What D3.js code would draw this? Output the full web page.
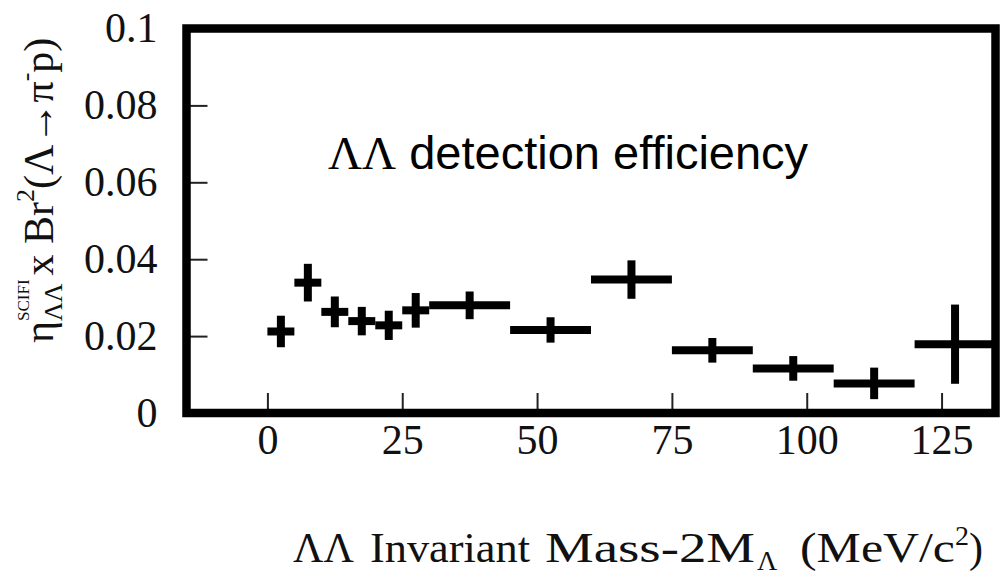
<!DOCTYPE html>
<html>
<head>
<meta charset="utf-8">
<script src="https://cdn.jsdelivr.net/npm/d3@7"></script>
<style>
  body { margin: 0; background: #fff; }
  svg { display: block; }
</style>
</head>
<body>
<svg id="eff-chart-svg" width="1000" height="577"></svg>
<script>
// bin centres (MeV/c^2), half bin widths, efficiency values and errors
let massCenter = [2.5, 7.5, 12.5, 17.5, 22.5, 27.5, 37.5, 52.5, 67.5, 82.5, 97.5, 112.5, 127.5];
let massHalfWidth = [2.5, 2.5, 2.5, 2.5, 2.5, 2.5, 7.5, 7.5, 7.5, 7.5, 7.5, 7.5, 7.5];
let effValue = [0.0212, 0.0339, 0.0263, 0.0239, 0.0228, 0.0267, 0.0280, 0.0216, 0.0347, 0.0163, 0.0116, 0.0077, 0.0179];
let effError = [0.0041, 0.0049, 0.0040, 0.0037, 0.0038, 0.0045, 0.0036, 0.0033, 0.0050, 0.0032, 0.0032, 0.0041, 0.0103];

let xTickValues = [0, 25, 50, 75, 100, 125];
let yTickValues = [0, 0.02, 0.04, 0.06, 0.08, 0.1];
let yTickLabels = ["0", "0.02", "0.04", "0.06", "0.08", "0.1"];

let effSVG = d3.select('#eff-chart-svg');
let serifFont = "'Liberation Serif', 'Times New Roman', serif";
let sansFont = "'Liberation Sans', Arial, sans-serif";

let xScale = d3.scaleLinear().domain([-15, 135]).range([186.5, 995.5]);
let yScale = d3.scaleLinear().domain([0, 0.1]).range([413, 28.5]);

// axes, ticks pointing inwards
let xAxis = d3.axisBottom(xScale)
    .tickValues(xTickValues)
    .tickSizeInner(-20)
    .tickSizeOuter(0)
    .tickPadding(11);

let yAxis = d3.axisLeft(yScale)
    .tickValues(yTickValues)
    .tickFormat((d, i) => yTickLabels[i])
    .tickSizeInner(-21)
    .tickSizeOuter(0)
    .tickPadding(29);

let xAxisG = effSVG.append("g")
    .attr("transform", "translate(0," + yScale(0) + ")")
    .call(xAxis);

let yAxisG = effSVG.append("g")
    .attr("transform", "translate(" + xScale(-15) + ",0)")
    .call(yAxis);

[xAxisG, yAxisG].forEach(function(g) {
    g.select(".domain").remove();
    g.selectAll(".tick line").attr("stroke", "#222").attr("stroke-width", 2);
    g.selectAll(".tick text")
        .attr("fill", "#111")
        .attr("font-family", serifFont)
        .attr("font-size", "42px");
});

// error bars
let pointG = effSVG.append("g");
massCenter.forEach(function(m, i) {
    pointG.append("line")
        .attr("x1", xScale(m - massHalfWidth[i]))
        .attr("x2", xScale(m + massHalfWidth[i]))
        .attr("y1", yScale(effValue[i]))
        .attr("y2", yScale(effValue[i]))
        .attr("stroke", "#000")
        .attr("stroke-width", 8);
    pointG.append("line")
        .attr("x1", xScale(m))
        .attr("x2", xScale(m))
        .attr("y1", yScale(effValue[i] - effError[i]))
        .attr("y2", yScale(effValue[i] + effError[i]))
        .attr("stroke", "#000")
        .attr("stroke-width", 8);
});

// frame
effSVG.append("rect")
    .attr("x", xScale(-15))
    .attr("y", yScale(0.1))
    .attr("width", xScale(135) - xScale(-15))
    .attr("height", yScale(0) - yScale(0.1))
    .attr("fill", "none")
    .attr("stroke", "#000")
    .attr("stroke-width", 8.5);

// annotation inside the frame
let noteText = effSVG.append("text")
    .attr("x", 328)
    .attr("y", 169)
    .attr("font-size", "47px")
    .attr("fill", "#000");
noteText.append("tspan").attr("font-family", serifFont).text("ΛΛ");
noteText.append("tspan").attr("font-family", sansFont).text(" detection efficiency");

// lays text pieces along a line, measuring each one
// (at = fixed start, w = forced width, stack = start together with previous piece)
function drawPieces(g, pieces) {
    let cursor = 0;
    let lastStart = 0;
    let lastWidth = 0;
    pieces.forEach(function(p) {
        if (p.gap) { cursor += p.gap; return; }
        let startX = p.at != null ? p.at : (p.stack ? lastStart : cursor);
        let t = g.append("text")
            .attr("x", startX)
            .attr("y", p.dy || 0)
            .attr("font-family", serifFont)
            .attr("font-size", p.size + "px")
            .attr("fill", "#111")
            .text(p.t);
        if (p.w) {
            t.attr("textLength", p.w).attr("lengthAdjust", "spacingAndGlyphs");
        }
        let w = p.w || t.node().getComputedTextLength();
        if (p.stack) {
            cursor = lastStart + Math.max(lastWidth, w);
        } else {
            lastStart = startX;
            lastWidth = w;
            cursor = startX + w;
        }
    });
}

// x axis title
let xTitleG = effSVG.append("g").attr("transform", "translate(0,562)");
drawPieces(xTitleG, [
    {t: "ΛΛ", size: 42, at: 293},
    {t: "Invariant", size: 42, at: 370, w: 160},
    {t: "Mass-2M", size: 42, at: 545, w: 210},
    {t: "Λ", size: 28, dy: 8, at: 757},
    {t: "(MeV/c", size: 42, at: 800, w: 155},
    {t: "2", size: 28, dy: -17},
    {t: ")", size: 42}
]);

// y axis title, rotated
let yTitleG = effSVG.append("g").attr("transform", "translate(53,343) rotate(-90)");
drawPieces(yTitleG, [
    {t: "η", size: 42},
    {t: "ΛΛ", size: 26, dy: 9},
    {t: "SCIFI", size: 17, dy: -24, stack: true},
    {gap: 4},
    {t: "x Br", size: 42},
    {t: "2", size: 26, dy: -19},
    {t: "(Λ→π", size: 42},
    {t: "-", size: 26, dy: -19},
    {t: "p)", size: 42}
]);
</script>
</body>
</html>
